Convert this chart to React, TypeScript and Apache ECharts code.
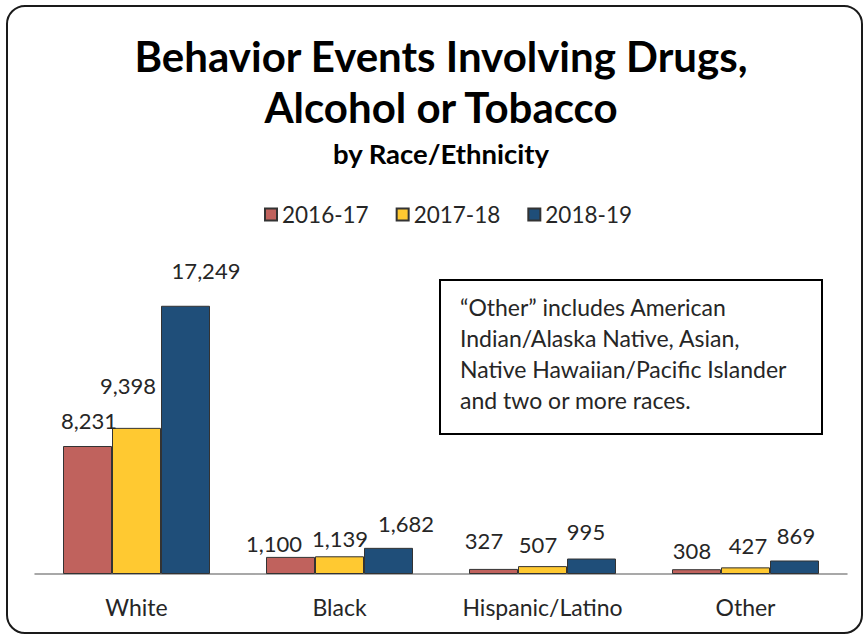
import React, { useEffect, useRef } from "react";
import * as echarts from "echarts";

const categories = ["White", "Black", "Hispanic/Latino", "Other"];
const seriesNames = ["2016-17", "2017-18", "2018-19"];
const values2016 = [8231, 1100, 327, 308];
const values2017 = [9398, 1139, 507, 427];
const values2018 = [17249, 1682, 995, 869];
const titleLines = ["Behavior Events Involving Drugs,", "Alcohol or Tobacco"];
const subtitle = "by Race/Ethnicity";
const noteLines = [
  "\u201COther\u201D includes American",
  "Indian/Alaska Native, Asian,",
  "Native Hawaiian/Pacific Islander",
  "and two or more races.",
];

const colors = ["#C0625D", "#FFC931", "#1F4E79"];
// manual label offsets (relative to each bar's top-left corner), as placed in the original
const labelOffsets = [
  [[26, -26], [8, -13], [15, -28], [20, -19]],
  [[16, -42], [25, -18], [20, -22], [27, -22]],
  [[45, -35], [42, -24], [19, -27], [26, -25]],
];

const FONT = "Lato";
const TEXT = "#262626";

export default function App() {
  const ref = useRef<HTMLDivElement>(null);
  useEffect(() => {
    if (!ref.current) return;
    const chart = echarts.init(ref.current, null, { renderer: "svg" });
    const allValues = [values2016, values2017, values2018];
    const series = allValues.map((vals, s) => ({
      name: seriesNames[s],
      type: "bar",
      barWidth: 49,
      barGap: "0%",
      itemStyle: { color: colors[s], borderColor: "#333", borderWidth: 1 },
      label: {
        show: true,
        align: "center",
        verticalAlign: "middle",
        fontSize: 22,
        fontFamily: FONT,
        color: TEXT,
        formatter: (p: any) => Number(p.value).toLocaleString("en-US"),
      },
      data: vals.map((v, i) => ({
        value: v,
        label: { position: labelOffsets[s][i] },
      })),
    }));
    chart.setOption({
      animation: false,
      backgroundColor: "#fff",
      grid: { left: 35, right: 17, top: 263, bottom: 61, outerBoundsMode: "none" },
      legend: {
        data: seriesNames,
        left: 259,
        top: 198,
        itemWidth: 12,
        itemHeight: 12,
        itemGap: 27,
        icon: "rect",
        textStyle: { fontSize: 22.5, fontFamily: FONT, color: TEXT },
      },
      xAxis: {
        type: "category",
        data: categories,
        axisLine: { lineStyle: { color: "#8c8c8c", width: 1.5 } },
        axisTick: { show: false },
        axisLabel: { interval: 0, hideOverlap: false, margin: 21, fontSize: 23, fontFamily: FONT, color: TEXT },
      },
      yAxis: { type: "value", min: 0, max: 20000, show: false, splitLine: { show: false } },
      series,
      graphic: [
        {
          type: "rect",
          shape: { x: 7, y: 6, width: 855, height: 627, r: 18 },
          style: { fill: "none", stroke: "#1a1a1a", lineWidth: 2 },
          silent: true,
        },
        {
          type: "text",
          x: 441,
          y: 56,
          style: { text: titleLines[0], fontSize: 42, fontWeight: "bold", fontFamily: FONT, fill: "#000", align: "center", verticalAlign: "middle" },
        },
        {
          type: "text",
          x: 441,
          y: 107,
          style: { text: titleLines[1], fontSize: 42, fontWeight: "bold", fontFamily: FONT, fill: "#000", align: "center", verticalAlign: "middle" },
        },
        {
          type: "text",
          x: 441,
          y: 153,
          style: { text: subtitle, fontSize: 27.5, fontWeight: "bold", fontFamily: FONT, fill: "#000", align: "center", verticalAlign: "middle" },
        },
        {
          type: "rect",
          shape: { x: 440, y: 280, width: 382, height: 154 },
          style: { fill: "#fff", stroke: "#000", lineWidth: 2 },
        },
        {
          type: "text",
          x: 460,
          y: 291,
          style: { text: noteLines.join("\n"), fontSize: 23, lineHeight: 31, fontFamily: FONT, fill: TEXT, align: "left", verticalAlign: "top" },
        },
      ],
    });
    return () => chart.dispose();
  }, []);
  return <div ref={ref} style={{ position: "absolute", left: 0, top: 0, width: 864, height: 635 }} />;
}
